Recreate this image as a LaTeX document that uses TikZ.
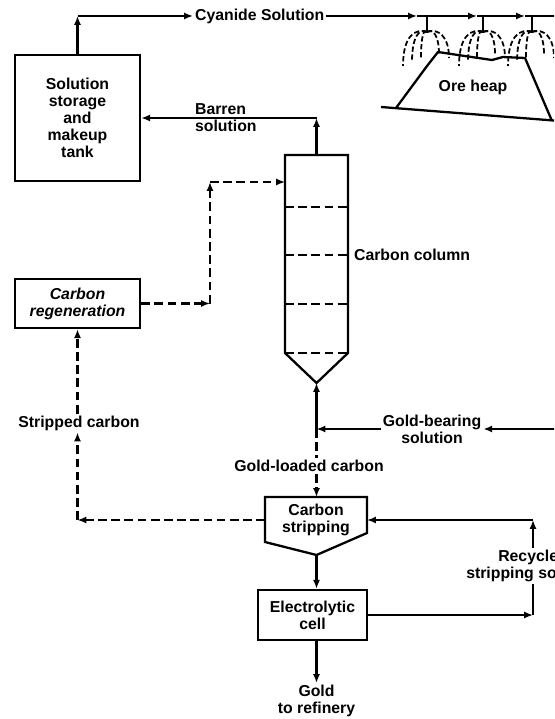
\documentclass[tikz,border=0pt]{standalone}
\usepackage{fontspec}
\setmainfont{Liberation Sans}
\usetikzlibrary{arrows.meta}
\tikzset{
	tank/.style   = {draw, line width=1.4pt, align=center, inner sep=0pt},
	flow/.style   = {line width=1.3pt},
	carbon/.style = {line width=1.3pt, dash pattern=on 5pt off 2.5pt},
	lbl/.style    = {align=center, inner sep=1pt},
	spray/.style  = {line width=1pt, dash pattern=on 3pt off 1.5pt}
}
\newcommand{\lblfont}{\fontsize{9}{9.7}\selectfont\bfseries}

\begin{document}
\begin{tikzpicture}[x=0.02cm, y=-0.02cm, >={Latex[length=5pt,width=4pt]}, font=\lblfont]
\useasboundingbox (0,0) rectangle (554,719);
\clip (0,0) rectangle (554,719);

% process units
\node[tank, minimum width=2.5cm, minimum height=2.52cm] (tank) at (77.5,118) {Solution\\storage\\and\\makeup\\tank};
\node[tank, minimum width=2.5cm, minimum height=0.98cm, font=\lblfont\itshape] (regen) at (77.5,303.5) {Carbon\\regeneration};
\node[tank, minimum width=2.18cm, minimum height=1cm] (cell) at (312.5,615) {Electrolytic\\cell};

% carbon column
\coordinate (colNW) at (285,155);
\coordinate (colNE) at (348,155);
\coordinate (colSW) at (285,353);
\coordinate (colSE) at (348,353);
\coordinate (coltip) at (316.5,383);
\coordinate (coltop) at (316.5,155);
\draw[flow] (colSW) -- (colNW) -- (colNE) -- (colSE) -- (coltip) -- cycle;
\foreach \y in {207,255,304,353}
	\draw[carbon, line width=1pt] (285,\y) -- (348,\y);
\node[lbl, anchor=west] (column) at (352,255) {Carbon column};

% stripping vessel
\coordinate (stripN) at (316.5,497);
\coordinate (stripW) at (265,520);
\coordinate (stripE) at (367,520);
\coordinate (stripS) at (316.5,555);
\draw[flow] (265,497) -- (367,497) -- (367,533) -- (stripS) -- (265,542) -- cycle;
\node[lbl] (strip) at (316,520) {Carbon\\stripping};

% ore heap and sprinklers
\draw[flow] (381,107) -- (560,121);
\draw[flow, line join=round] (396,108) -- (427,66) -- (438,52) -- (458,55) -- (492,60) -- (503,57) -- (525,58) -- (552,121);
\node[lbl] (heap) at (473,87) {Ore heap};
\foreach \x in {427,483,532}{
	\draw[flow] (\x,16) -- (\x,32);
	\foreach \a/\b in {-24/34, -15/30, -6/26, 12/22, 22/26}
		\draw[spray] (\x,32) .. controls (\x+0.5*\a,28) and (\x+\a,36) .. (\x+\a,32+\b);
}

% cyanide feed
\coordinate (c1) at (77.5,16);
\coordinate (feedend) at (560,16);
\node[lbl, anchor=west] (cyan) at (193,16) {Cyanide Solution};
\draw[flow,->] (tank.north) -- (c1);
\draw[flow,->] (c1) -- (cyan.west);
\draw[flow,->] (cyan.east) -- (417,16);
\draw[flow,->] (417,16) -- (477,16);
\draw[flow,->] (477,16) -- (525,16);
\draw[flow] (525,16) -- (feedend);

% barren solution back to tank
\coordinate (b1) at (316.5,118);
\node[lbl, anchor=west, align=left] (barren) at (193,118) {Barren\\solution};
\draw[flow,->] (coltop) -- (b1);
\draw[flow,->] (b1) -- (tank.east);

% regenerated carbon to column
\coordinate (r1) at (210,303.5);
\coordinate (r2) at (210,182);
\draw[carbon,->] (regen.east) -- (r1);
\draw[carbon,->] (r1) -- (r2);
\draw[carbon,->] (r2) -- (r2 -| colNW);

% pregnant solution into column
\coordinate (g0) at (560,429);
\coordinate (g1) at (316.5,429);
\node[lbl] (gbear) at (432,429) {Gold-bearing\\solution};
\draw[flow,->] (g0) -- (gbear.east);
\draw[flow,->] (gbear.west) -- (g1);
\draw[flow,->] (g1) -- (coltip);

% loaded carbon to stripping
\node[lbl] (gload) at (309,466) {Gold-loaded carbon};
\draw[carbon] (g1) -- (g1 |- gload.north);
\draw[carbon,->] (g1 |- gload.south) -- (stripN);

% stripped carbon to regeneration
\coordinate (s1) at (77.5,520);
\node[lbl] (scarb) at (79,423) {Stripped carbon};
\draw[carbon,->] (stripW) -- (s1);
\draw[carbon,->] (s1) -- (s1 |- scarb.south);
\draw[carbon,->] (s1 |- scarb.north) -- (regen.south);

% electrolysis and recycle loop
\coordinate (e1) at (533,615);
\coordinate (e2) at (533,520);
\node[lbl] (recyc) at (533,566) {Recycled\\stripping solution};
\draw[flow,->] (stripS) -- (stripS |- cell.north);
\draw[flow,->] (cell.east) -- (e1);
\draw[flow] (e1) -- (recyc.south);
\draw[flow,->] (recyc.north) -- (e2);
\draw[flow,->] (e2) -- (stripE);

% product
\node[lbl] (gold) at (316.5,701) {Gold\\to refinery};
\draw[flow,->] (cell.south -| stripS) -- (gold.north);
\end{tikzpicture}
\end{document}
